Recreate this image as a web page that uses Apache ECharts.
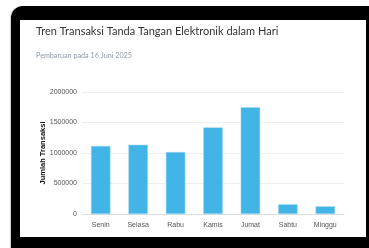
<!DOCTYPE html>
<html><head><meta charset="utf-8">
<script src="https://cdn.jsdelivr.net/npm/echarts@6/dist/echarts.min.js"></script>
<style>
html,body{margin:0;padding:0;width:369px;height:248px;overflow:hidden;background:#fff;}
#frame{position:absolute;left:11px;top:6px;width:380px;height:260px;background:#000;border-radius:12px;box-shadow:-1px 0 1px #ccc;}
#card{position:absolute;left:20px;top:20px;width:346px;height:217px;background:#fff;}
#chart{position:absolute;left:0;top:0;width:369px;height:248px;}
</style></head>
<body>
<div id="frame"></div><div id="card"></div>
<div id="chart"></div>
<script>
const categories = ['Senin','Selasa','Rabu','Kamis','Jumat','Sabtu','Minggu'];
const transactions = [1115000,1136000,1016000,1420000,1750000,159000,126000];
const yTicks = [0,500000,1000000,1500000,2000000];
const titleText = 'Tren Transaksi Tanda Tangan Elektronik dalam Hari';
const subtitleText = 'Pembaruan pada 16 Juni 2025';
const yAxisName = 'Jumlah Transaksi';

const chart = echarts.init(document.getElementById('chart'), null, {renderer:'canvas'});
chart.setOption({
  animation:false,
  title:[
    {text:titleText,left:36,top:26,padding:0,textStyle:{fontFamily:'Lato',fontSize:11,fontWeight:'normal',color:'#333'}},
    {text:subtitleText,left:36,top:52,padding:0,textStyle:{fontFamily:'Lato',fontSize:7.2,fontWeight:'normal',color:'#8f99a6'}}
  ],
  grid:{left:82,right:25,top:92,bottom:34},
  xAxis:{type:'category',data:categories,
    axisLine:{lineStyle:{color:'#ddd'}},axisTick:{lineStyle:{color:'#ddd'},length:4},
    axisLabel:{fontFamily:'Liberation Sans',fontSize:7,color:'#555',margin:8}},
  yAxis:{type:'value',min:yTicks[0],max:yTicks[yTicks.length-1],interval:yTicks[1]-yTicks[0],
    name:yAxisName,nameLocation:'middle',nameGap:35,nameMoveOverlap:false,
    nameTextStyle:{fontFamily:'Liberation Sans',fontSize:7.5,fontWeight:'bold',color:'#111'},
    axisLabel:{fontFamily:'Liberation Sans',fontSize:7,color:'#555',margin:5,formatter:function(v){return String(v);}},
    splitLine:{lineStyle:{color:'#eee'}}},
  series:[{type:'bar',data:transactions,barWidth:'52%',
    itemStyle:{color:'#42b5e6',borderColor:'#9bd8f2',borderWidth:0.5}}]
});
</script>
</body></html>
